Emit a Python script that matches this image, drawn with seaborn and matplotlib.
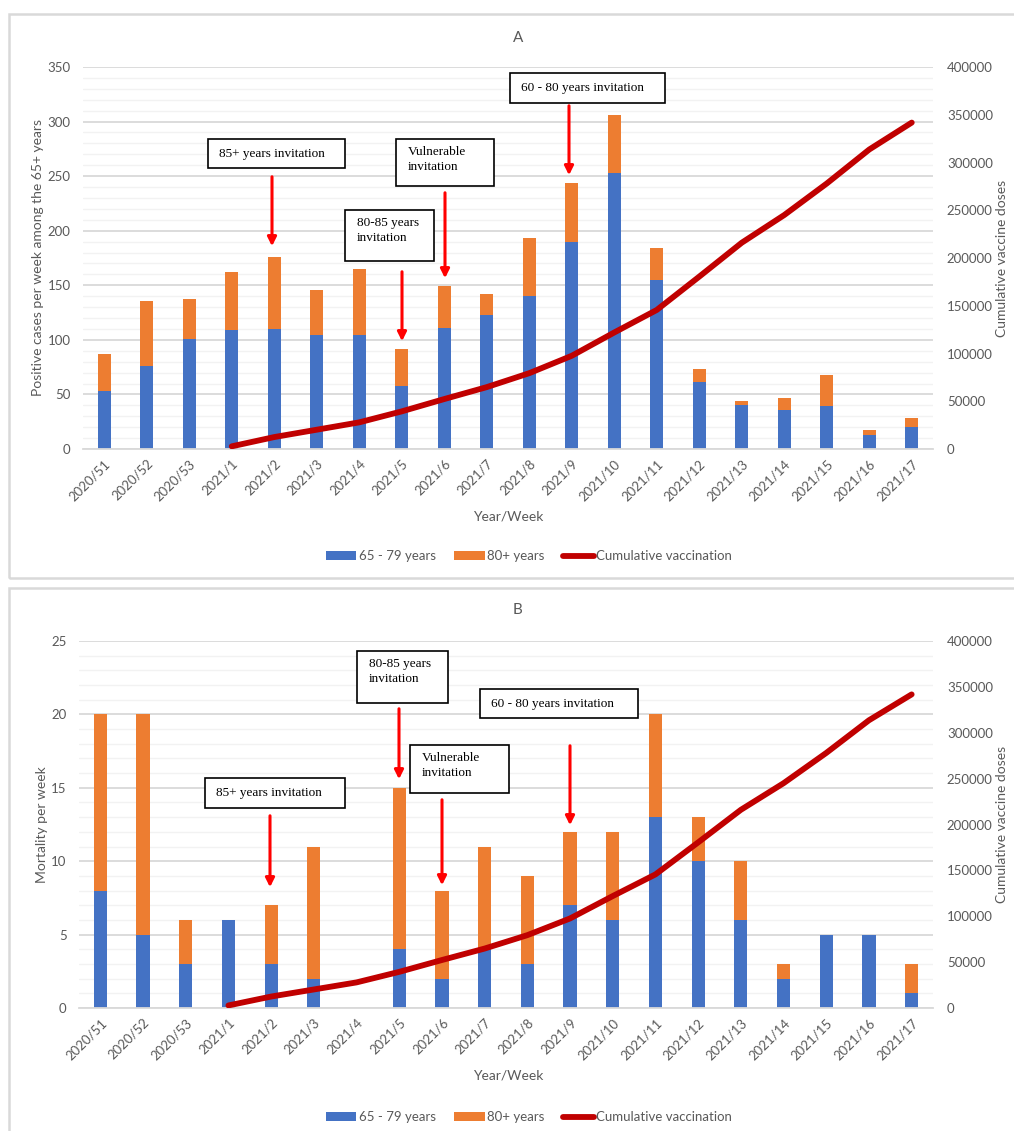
import numpy as np
import matplotlib
matplotlib.use("Agg")
import matplotlib.pyplot as plt
from matplotlib.patches import Rectangle, Patch, FancyArrowPatch
from matplotlib.lines import Line2D
from matplotlib.ticker import MultipleLocator
import seaborn as sns

# ---------------- data ----------------
weeks = ["2020/51", "2020/52", "2020/53", "2021/1", "2021/2", "2021/3", "2021/4",
         "2021/5", "2021/6", "2021/7", "2021/8", "2021/9", "2021/10", "2021/11",
         "2021/12", "2021/13", "2021/14", "2021/15", "2021/16", "2021/17"]

# Panel A: positive cases per week
cases_65_79 = [53, 76, 101, 109, 110, 104, 104, 58, 111, 123, 140, 190, 253, 155,
               61, 40, 36, 39, 13, 20]
cases_total = [87, 136, 137, 162, 176, 146, 165, 92, 149, 142, 193, 244, 306, 184,
               73, 44, 47, 68, 17, 28]

# Panel B: mortality per week
deaths_65_79 = [8, 5, 3, 6, 3, 2, 0, 4, 2, 4, 3, 7, 6, 13, 10, 6, 2, 5, 5, 1]
deaths_total = [20, 20, 6, 6, 7, 11, 0, 15, 8, 11, 9, 12, 12, 20, 13, 10, 3, 5, 5, 3]

# Cumulative vaccine doses (from 2021/1)
vacc_weeks = weeks[3:]
vacc_doses = [2800, 12500, 20200, 27900, 39400, 52300, 64800, 79400, 97600, 122000,
              145600, 180500, 216000, 245000, 278000, 313600, 341800]

legend_labels = ["65 - 79 years", "80+ years", "Cumulative vaccination"]

BLUE = "#4472C4"
ORANGE = "#ED7D31"
RED = "#C00000"
GRAY_TXT = "#595959"
MAJOR = "#D9D9D9"
MINOR = "#F2F2F2"

sns.set_theme(style="white")
plt.rcParams["font.family"] = ["Lato", "DejaVu Sans"]

W, H = 1014, 1131
fig = plt.figure(figsize=(W / 100, H / 100), dpi=100)


def fx(x):
    return x / W


def fy(y):
    return 1 - y / H


def panel(rect, title, total, lower, ylabel, ymax, ystep, yminor, title_y, xlabel_y, legend_y):
    ax = fig.add_axes(rect)
    sns.barplot(x=weeks, y=total, color=ORANGE, saturation=1, width=0.31,
                linewidth=0, ax=ax)
    sns.barplot(x=weeks, y=lower, color=BLUE, saturation=1, width=0.31,
                linewidth=0, ax=ax)
    ax.set_ylim(0, ymax)
    ax.yaxis.set_major_locator(MultipleLocator(ystep))
    ax.yaxis.set_minor_locator(MultipleLocator(yminor))
    ax.grid(axis="y", which="major", color=MAJOR, lw=1.3, zorder=0)
    ax.grid(axis="y", which="minor", color=MINOR, lw=1.0, zorder=0)
    ax.set_axisbelow(True)
    for s in ["top", "right", "left"]:
        ax.spines[s].set_visible(False)
    ax.spines["bottom"].set_color(MAJOR)
    ax.spines["bottom"].set_linewidth(1.3)
    ax.tick_params(axis="both", which="both", length=0, colors=GRAY_TXT, labelsize=9.5)
    ax.tick_params(axis="y", pad=9)
    ax.set_ylabel(ylabel, color=GRAY_TXT, fontsize=10, labelpad=2.5)
    ax.set_xlabel("")

    ax2 = ax.twinx()
    pos = [weeks.index(w) for w in vacc_weeks]
    sns.lineplot(x=pos, y=vacc_doses, color=RED, lw=4.2, ax=ax2,
                 solid_capstyle="round", solid_joinstyle="round")
    ax2.set_ylim(0, 400000)
    ax2.yaxis.set_major_locator(MultipleLocator(50000))
    for s in ["top", "right", "left", "bottom"]:
        ax2.spines[s].set_visible(False)
    ax2.tick_params(axis="both", length=0, colors=GRAY_TXT, labelsize=9.5)
    ax2.tick_params(axis="y", pad=10)
    ax2.set_ylabel("Cumulative vaccine doses", color=GRAY_TXT, fontsize=10, labelpad=2)
    ax2.grid(False)

    ax.set_xlim(-0.5, len(weeks) - 0.5)
    ax.set_xticks(range(len(weeks)))
    ax.set_xticklabels(weeks, rotation=45, ha="right", rotation_mode="anchor",
                       color=GRAY_TXT, fontsize=9.5)
    ax.tick_params(axis="x", pad=6)

    fig.text(fx(518), fy(title_y), title, ha="center", va="center",
             color=GRAY_TXT, fontsize=11)
    fig.text(fx(508), fy(xlabel_y), "Year/Week", ha="center", va="center",
             color=GRAY_TXT, fontsize=10)

    handles = [Patch(facecolor=BLUE, edgecolor="none"),
               Patch(facecolor=ORANGE, edgecolor="none"),
               Line2D([0], [0], color=RED, lw=4.2, solid_capstyle="round")]
    fig.legend(handles, legend_labels, loc="center", ncol=3, frameon=False,
               bbox_to_anchor=(fx(529), fy(legend_y)), fontsize=9.5,
               labelcolor=GRAY_TXT, handlelength=2.3, handleheight=0.6,
               handletextpad=0.2, columnspacing=1.4)
    return ax


panel([fx(83), fy(449), fx(933) - fx(83), fy(67) - fy(449)], "A",
      cases_total, cases_65_79, "Positive cases per week among the 65+ years",
      350, 50, 10, 38, 517, 556)
panel([fx(79), fy(1008), fx(933) - fx(79), fy(641) - fy(1008)], "B",
      deaths_total, deaths_65_79, "Mortality per week",
      25, 5, 1, 610, 1076, 1117)

# panel frames
for (x0, y0, x1, y1) in [(9, 14, 1030, 578), (9, 588, 1030, 1150)]:
    fig.add_artist(Rectangle((fx(x0), fy(y1)), fx(x1) - fx(x0), fy(y0) - fy(y1),
                             transform=fig.transFigure, fill=False,
                             edgecolor=MAJOR, lw=1.8, clip_on=False))


def note(x0, y0, x1, y1, text, ax0, ay0, ay1):
    fig.add_artist(Rectangle((fx(x0), fy(y1)), fx(x1) - fx(x0), fy(y0) - fy(y1),
                             transform=fig.transFigure, facecolor="white",
                             edgecolor="black", lw=1.2, zorder=5))
    nlines = text.count("\n") + 1
    if nlines == 1:
        fig.text(fx(x0 + 11), fy((y0 + y1) / 2), text, ha="left", va="center",
                 family="Liberation Serif", fontsize=9.5, color="black", zorder=6)
    else:
        fig.text(fx(x0 + 12), fy(y0 + 7), text, ha="left", va="top",
                 family="Liberation Serif", fontsize=9.5, color="black",
                 linespacing=1.3, zorder=6)
    fig.add_artist(FancyArrowPatch(
        (fx(ax0), fy(ay0)), (fx(ax0), fy(ay1)), transform=fig.transFigure,
        arrowstyle="-|>", mutation_scale=13, color="#FF0000", lw=2.2, zorder=6))


# Panel A notes
note(208, 139, 345, 168, "85+ years invitation", 272, 174, 249)
note(396, 139, 494, 186, "Vulnerable\ninvitation", 445, 190, 281)
note(345, 210, 434, 261, "80-85 years\ninvitation", 402, 269, 344)
note(510, 73, 665, 103, "60 - 80 years invitation", 569, 103, 178)
# Panel B notes
note(205, 778, 345, 808, "85+ years invitation", 270, 813, 890)
note(357, 651, 448, 703, "80-85 years\ninvitation", 399, 706, 782)
note(410, 745, 509, 793, "Vulnerable\ninvitation", 442, 797, 888)
note(480, 689, 638, 718, "60 - 80 years invitation", 570, 743, 828)

fig.savefig("out.png", dpi=100)
